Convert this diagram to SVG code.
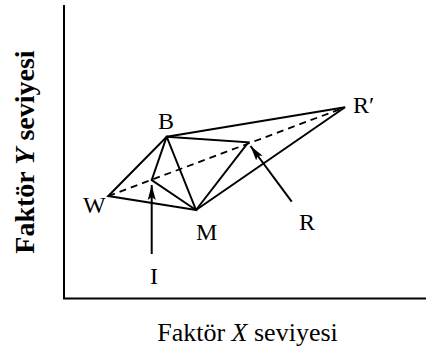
<svg xmlns="http://www.w3.org/2000/svg" width="426" height="349" viewBox="0 0 426 349">
<defs>
<style>
.ln{stroke:#000;stroke-width:2;fill:none;stroke-linejoin:miter;stroke-linecap:butt}
.ds{stroke:#000;stroke-width:1.8;fill:none;stroke-dasharray:7 5}
.lb{font-family:"Liberation Serif","Times New Roman",serif;font-size:24px;fill:#000}
.ax{font-family:"Liberation Serif","Times New Roman",serif;font-size:26px;fill:#000}
</style>
<marker id="ah" markerWidth="16" markerHeight="10" refX="15" refY="5" orient="auto" markerUnits="userSpaceOnUse">
<path d="M0,1 L15,5 L0,9 L3,5 Z" fill="#000"/>
</marker>
</defs>
<rect width="426" height="349" fill="#fff"/>
<g id="axes">
<path class="ln" d="M64,5 L64,298.5 L426,298.5"/>
</g>
<g id="connectors">
<path class="ln" d="M108.3,196 L166.7,136.7 L196,210 Z"/>
<path class="ln" d="M166.7,136.7 L345,107.3 L196,210"/>
<path class="ln" d="M166.7,136.7 L151.7,180 L196,210"/>
<path class="ln" d="M166.7,136.7 L248.3,142.3 L196,210"/>
<path class="ds" d="M108.3,196 L345,107.3"/>
<path class="ln" d="M151.7,254 L151.7,185" marker-end="url(#ah)"/>
<path class="ln" d="M291.7,201.7 L250.5,146" marker-end="url(#ah)"/>
</g>
<g id="node-W"><text class="lb" x="83" y="213">W</text></g>
<g id="node-B"><text class="lb" x="158" y="129">B</text></g>
<g id="node-M"><text class="lb" x="196" y="240">M</text></g>
<g id="node-Rp"><text class="lb" x="353" y="113">R′</text></g>
<g id="node-R"><text class="lb" x="299" y="230">R</text></g>
<g id="node-I"><text class="lb" x="150" y="284">I</text></g>
<g id="label-x"><text class="ax" x="247.5" y="341" text-anchor="middle">Faktör <tspan font-style="italic">X</tspan> seviyesi</text></g>
<g id="label-y"><text class="ax" font-size="28" font-weight="bold" transform="translate(34,152) rotate(-90)" text-anchor="middle" style="font-size:28px">Faktör <tspan font-style="italic">Y</tspan> seviyesi</text></g>
</svg>
